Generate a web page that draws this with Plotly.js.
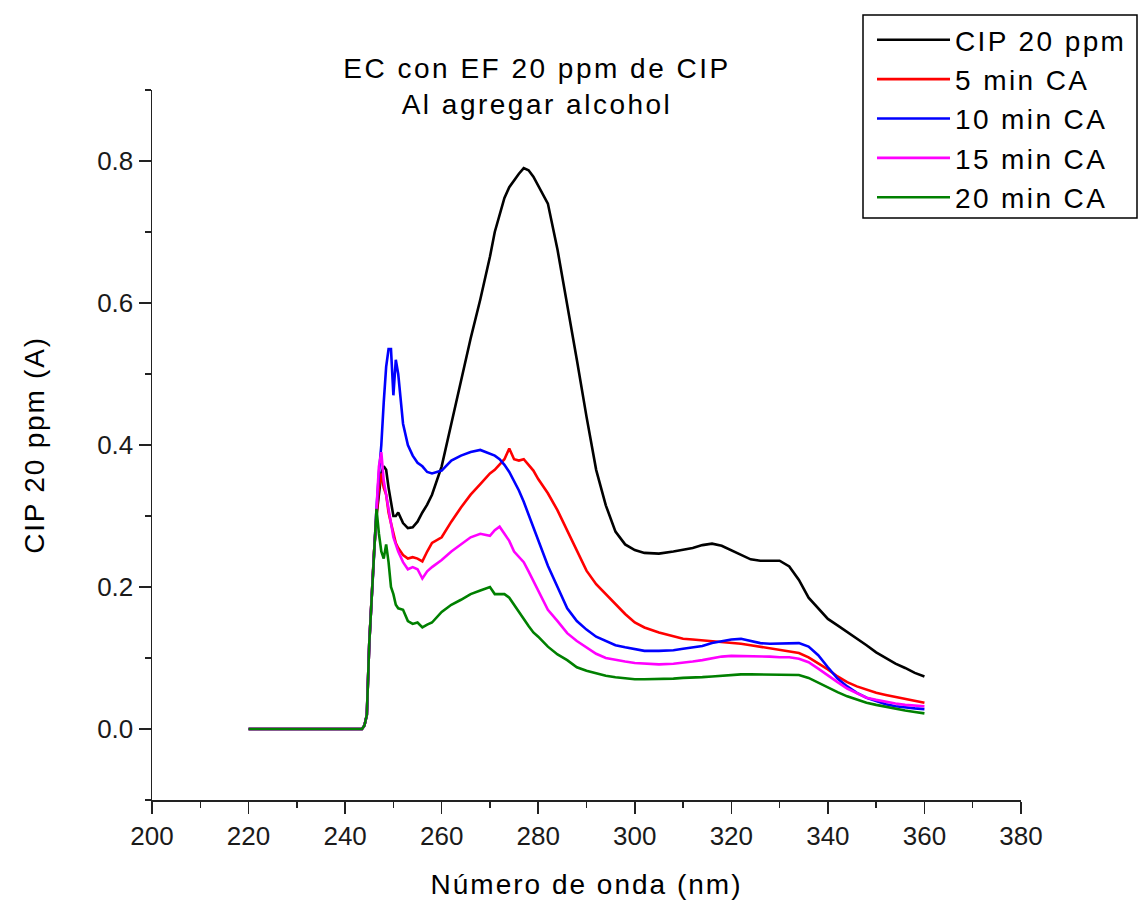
<!DOCTYPE html>
<html>
<head>
<meta charset="utf-8">
<script src="https://cdn.plot.ly/plotly-3.0.1.min.js"></script>
<style>
  html, body { margin: 0; padding: 0; background: #fff; }
  #chart { width: 1138px; height: 901px; }
  .gtitle { letter-spacing: 2.5px; }
  .xtitle { letter-spacing: 2px; }
  .ytitle { letter-spacing: 1.8px; }
  .legendtext { letter-spacing: 2.4px; }
</style>
</head>
<body>
<div id="chart"></div>
<script>
// Wavelength grid (nm)
const wavelength = [220, 243.5, 244, 244.5, 245, 245.5, 246, 246.5, 247, 247.5, 248, 248.5, 249, 249.5, 250, 250.5, 251,
  252, 253, 254, 255, 256, 257, 258,
  260, 262, 264, 266, 268, 270,
  271, 272, 273, 274, 275, 276, 277, 278, 279, 280,
  282, 284, 286, 288, 290, 292, 294, 296, 298, 300,
  302, 305, 308,
  310, 312, 314, 316, 318, 320, 322, 324, 326, 328, 330, 332, 334, 336, 338, 340, 342, 344, 346, 348, 350, 352, 354, 356, 358, 360];

const seriesNames = ["CIP 20 ppm", "5 min CA", "10 min CA", "15 min CA", "20 min CA"];

const cip20 = [0, 0, 0.005, 0.02, 0.12, 0.19, 0.25, 0.30, 0.33, 0.36, 0.37, 0.365, 0.34, 0.32, 0.30, 0.30, 0.305,
  0.29, 0.283, 0.284, 0.292, 0.305, 0.316, 0.33,
  0.37, 0.43, 0.49, 0.55, 0.605, 0.665,
  0.70, 0.725, 0.748, 0.763, 0.773, 0.782, 0.79, 0.787, 0.778, 0.766,
  0.74, 0.675, 0.60, 0.52, 0.44, 0.365, 0.315, 0.278, 0.26, 0.252,
  0.248, 0.247, 0.25,
  0.252, 0.255, 0.259, 0.261, 0.258, 0.252, 0.245, 0.239, 0.237, 0.237, 0.237, 0.229, 0.21, 0.185, 0.17, 0.155, 0.146, 0.137, 0.127, 0.118, 0.108, 0.1, 0.092, 0.086, 0.079, 0.074];

const min5 = [0, 0, 0.005, 0.02, 0.12, 0.19, 0.25, 0.30, 0.34, 0.36, 0.34, 0.33, 0.305, 0.29, 0.275, 0.262, 0.255,
  0.245, 0.24, 0.242, 0.24, 0.236, 0.25, 0.262,
  0.27, 0.292, 0.312, 0.33, 0.345, 0.36,
  0.365, 0.372, 0.38, 0.395, 0.38, 0.378, 0.38, 0.372, 0.364, 0.352,
  0.332, 0.308, 0.28, 0.25, 0.223, 0.204, 0.19, 0.175, 0.162, 0.15,
  0.143, 0.136, 0.13,
  0.127, 0.126, 0.125, 0.124, 0.123, 0.122, 0.12, 0.118, 0.116, 0.114, 0.112, 0.11, 0.107, 0.101, 0.093, 0.084, 0.074, 0.066, 0.06, 0.055, 0.051, 0.048, 0.045, 0.042, 0.039, 0.037];

const min10 = [0, 0, 0.005, 0.02, 0.12, 0.19, 0.25, 0.31, 0.36, 0.40, 0.46, 0.51, 0.535, 0.535, 0.47, 0.52, 0.50,
  0.43, 0.40, 0.385, 0.375, 0.37, 0.362, 0.36,
  0.364, 0.378, 0.385, 0.39, 0.393, 0.388,
  0.385, 0.38, 0.372, 0.362, 0.35, 0.336, 0.32, 0.302, 0.284, 0.265,
  0.23, 0.2, 0.17, 0.152, 0.14, 0.13, 0.124, 0.118, 0.115, 0.112,
  0.11, 0.11, 0.111,
  0.113, 0.115, 0.117, 0.121, 0.124, 0.126, 0.127, 0.124, 0.121, 0.12, 0.12, 0.12, 0.121, 0.116, 0.104, 0.087, 0.071, 0.06, 0.051, 0.044, 0.039, 0.035, 0.032, 0.03, 0.029, 0.028];

const min15 = [0, 0, 0.005, 0.02, 0.12, 0.19, 0.25, 0.31, 0.37, 0.39, 0.35, 0.33, 0.31, 0.29, 0.27, 0.26, 0.25,
  0.235, 0.225, 0.228, 0.225, 0.212, 0.222, 0.228,
  0.238, 0.25, 0.26, 0.27, 0.275, 0.272,
  0.28, 0.285, 0.275, 0.265, 0.25, 0.242, 0.235, 0.222, 0.208, 0.195,
  0.168, 0.152, 0.135, 0.124, 0.115, 0.106, 0.1, 0.097, 0.095, 0.093,
  0.092, 0.091, 0.092,
  0.093, 0.095, 0.097, 0.1, 0.102, 0.103, 0.103, 0.103, 0.102, 0.102, 0.101, 0.101, 0.099, 0.094, 0.085, 0.075, 0.066, 0.057, 0.05, 0.044, 0.041, 0.038, 0.036, 0.034, 0.033, 0.032];

const min20 = [0, 0, 0.005, 0.02, 0.12, 0.19, 0.25, 0.31, 0.275, 0.25, 0.24, 0.26, 0.235, 0.2, 0.19, 0.175, 0.17,
  0.168, 0.152, 0.148, 0.15, 0.143, 0.147, 0.15,
  0.165, 0.175, 0.182, 0.19, 0.195, 0.2,
  0.19, 0.19, 0.19, 0.185, 0.175, 0.164, 0.155, 0.145, 0.136, 0.13,
  0.116, 0.105, 0.097, 0.087, 0.082, 0.078, 0.075, 0.073, 0.071, 0.07,
  0.07, 0.07, 0.071,
  0.072, 0.072, 0.073, 0.074, 0.075, 0.077, 0.077, 0.077, 0.077, 0.077, 0.076, 0.076, 0.076, 0.072, 0.065, 0.058, 0.052, 0.046, 0.041, 0.037, 0.034, 0.031, 0.029, 0.026, 0.024, 0.022];

const seriesValues = [cip20, min5, min10, min15, min20];
const seriesColors = ["#000000", "#ff0000", "#0000ff", "#ff00ff", "#008000"];

const FONT = "Arial, 'Liberation Sans', sans-serif";
const AX = "#222222";

const traces = seriesValues.map((vals, i) => ({
  type: "scatter",
  mode: "lines",
  x: wavelength,
  y: vals,
  name: seriesNames[i],
  line: { color: seriesColors[i], width: 2.6 },
  hoverinfo: "x+y+name"
}));

const axisCommon = {
  showline: true, linecolor: AX, linewidth: 1.5,
  ticks: "outside", ticklen: 12, tickwidth: 1.5, tickcolor: AX,
  showgrid: false, zeroline: false, mirror: false,
  tickfont: { family: FONT, size: 26, color: "#1a1a1a" }
};

const layout = {
  width: 1138, height: 901,
  paper_bgcolor: "#ffffff", plot_bgcolor: "#ffffff",
  margin: { l: 152, r: 117, t: 90, b: 101, autoexpand: false },
  font: { family: FONT, color: "#000" },
  title: {
    text: "EC con EF 20 ppm de CIP<br>Al agregar alcohol",
    font: { family: FONT, size: 28, color: "#000" },
    xref: "container", x: 537 / 1138, xanchor: "center",
    yref: "container", y: 1 - 78 / 901, yanchor: "top"
  },
  xaxis: Object.assign({}, axisCommon, {
    range: [200, 380], tick0: 200, dtick: 20,
    minor: { dtick: 10, ticks: "outside", ticklen: 6, tickwidth: 1.5, tickcolor: AX, showgrid: false },
    title: { text: "Número de onda (nm)", font: { family: FONT, size: 28, color: "#000" }, standoff: 24 },
    automargin: false
  }),
  yaxis: Object.assign({}, axisCommon, {
    range: [-0.1, 0.9], tick0: 0, dtick: 0.2, tickformat: ".1f",
    minor: { dtick: 0.1, ticks: "outside", ticklen: 6, tickwidth: 1.5, tickcolor: AX, showgrid: false },
    title: { text: "CIP 20 ppm (A)", font: { family: FONT, size: 28, color: "#000" }, standoff: 44 },
    automargin: false
  }),
  showlegend: true,
  legend: {
    x: (872 - 152) / 869, xanchor: "left",
    y: (800 - 15) / 710, yanchor: "top",
    bgcolor: "rgba(0,0,0,0)", borderwidth: 0,
    font: { family: FONT, size: 28, color: "#000" },
    itemwidth: 73,
    tracegroupgap: 0
  },
  shapes: [{
    type: "rect", xref: "paper", yref: "paper",
    x0: (863 - 152) / 869, x1: (1137 - 152) / 869,
    y0: (800 - 218) / 710, y1: (800 - 15) / 710,
    line: { color: "#000", width: 1.5 }, fillcolor: "rgba(0,0,0,0)", layer: "above"
  }]
};

Plotly.newPlot("chart", traces, layout, { displayModeBar: false, staticPlot: true });
</script>
</body>
</html>
